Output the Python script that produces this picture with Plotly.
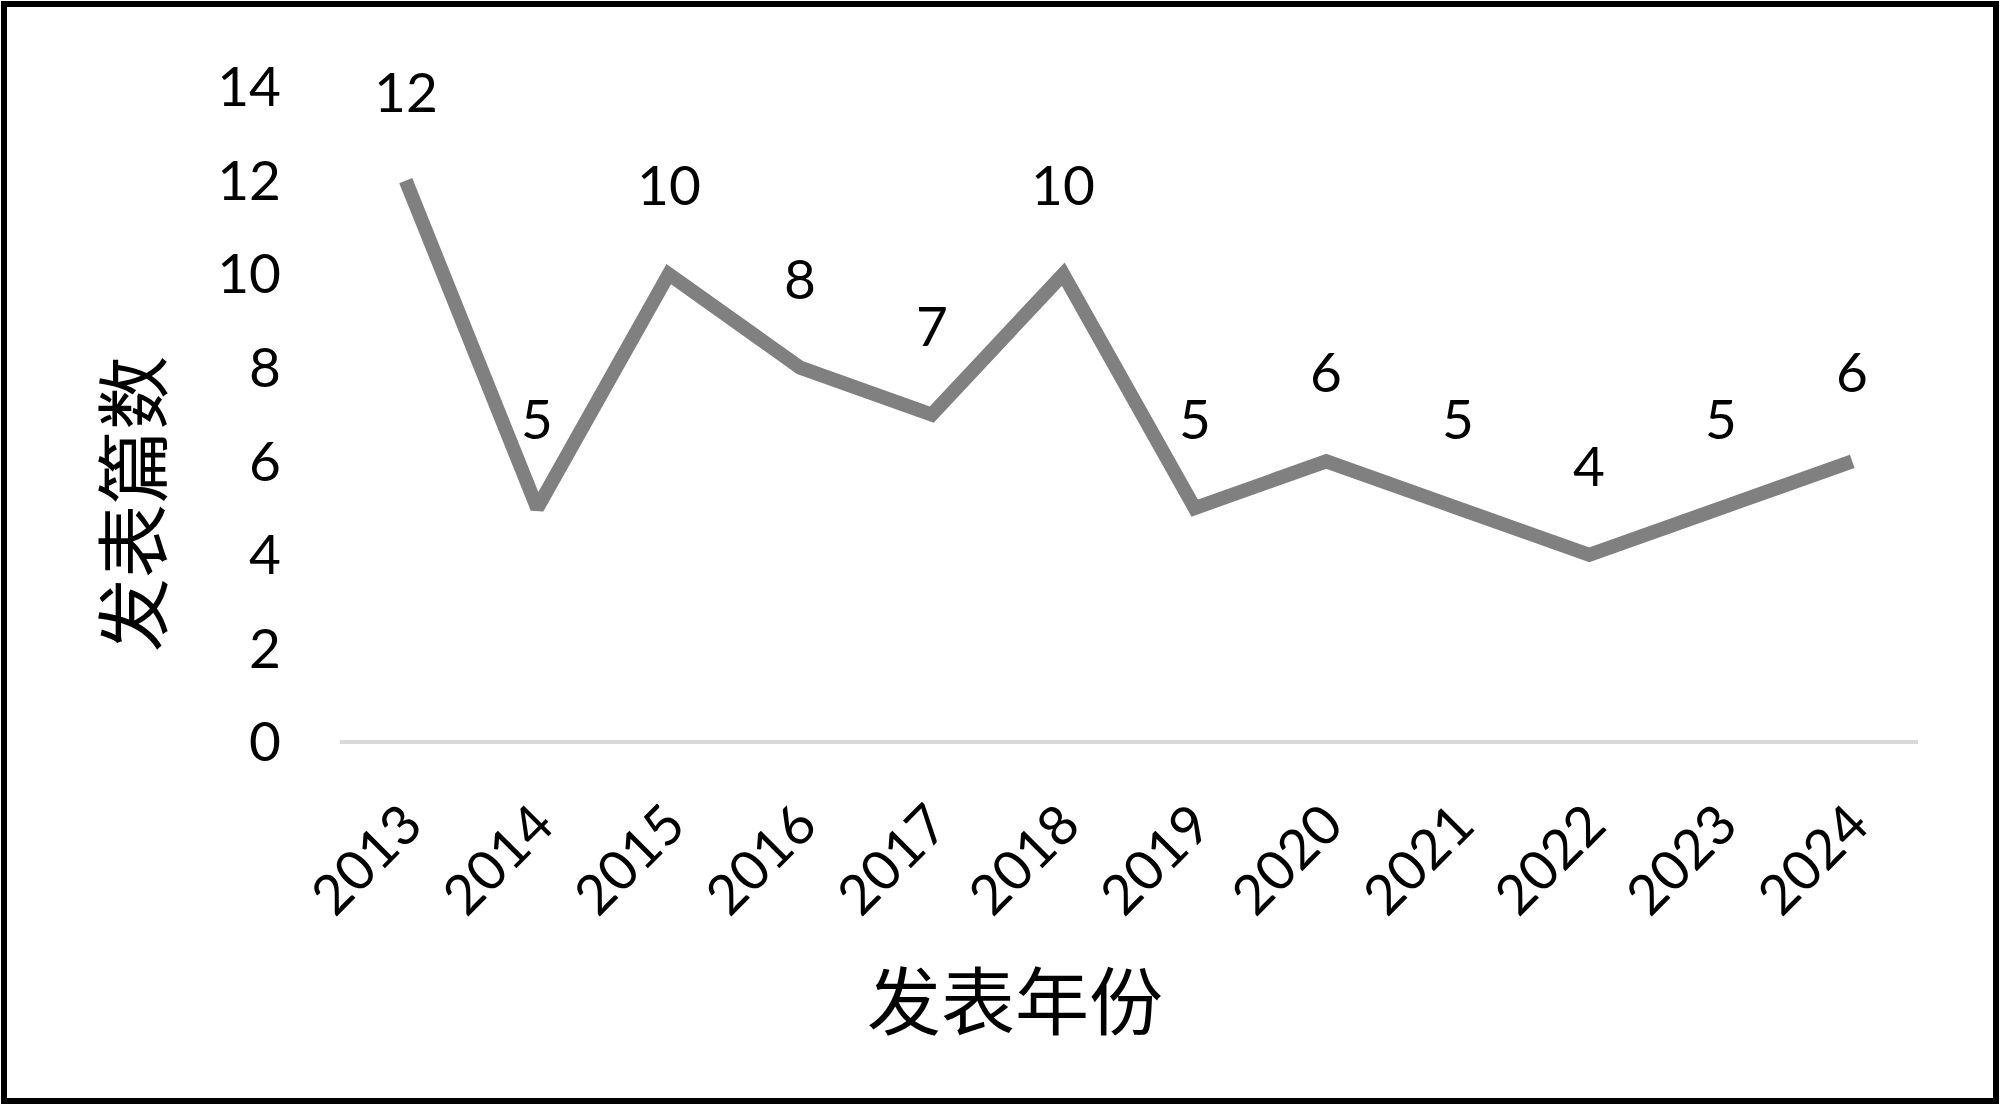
import plotly.graph_objects as go

years = ['2013', '2014', '2015', '2016', '2017', '2018',
         '2019', '2020', '2021', '2022', '2023', '2024']
counts = [12, 5, 10, 8, 7, 10, 5, 6, 5, 4, 5, 6]

x_title = '发表年份'
y_title = '发表篇数'

num_font = 'Lato, Calibri, sans-serif'
cjk_font = 'Noto Sans CJK SC'

W, H = 2000, 1105
L, R, T, B = 340, 82, 87, 363
pw, ph = W - L - R, H - T - B

fig = go.Figure(go.Scatter(
    x=years, y=counts, mode='lines',
    line=dict(color='#808080', width=14),
    hoverinfo='x+y',
))

# data labels sit well above each point (category axis -> index positions)
for i, c in enumerate(counts):
    fig.add_annotation(x=i, y=c, text=str(c), showarrow=False,
                       yshift=90, font=dict(family=num_font, size=55, color='black'))

def px_x(p):
    return (p - L) / pw

def px_y(p):
    return (H - B - p) / ph

fig.add_annotation(x=px_x(1015), y=px_y(997), xref='paper', yref='paper',
                   xanchor='center', yanchor='middle',
                   text=x_title, showarrow=False,
                   font=dict(family=cjk_font, size=74, color='black'))
fig.add_annotation(x=px_x(128), y=px_y(504), xref='paper', yref='paper',
                   xanchor='center', yanchor='middle',
                   text=y_title, showarrow=False, textangle=-90,
                   font=dict(family=cjk_font, size=74, color='black'))

# outer frame
fig.add_shape(type='rect', xref='paper', yref='paper',
              x0=px_x(4), x1=px_x(1996), y0=px_y(1101), y1=px_y(4),
              line=dict(color='black', width=6))

fig.update_layout(
    width=W, height=H,
    margin=dict(l=L, r=R, t=T, b=B),
    plot_bgcolor='white', paper_bgcolor='white',
    showlegend=False,
    xaxis=dict(type='category', range=[-0.5, len(years) - 0.5],
               showgrid=False, zeroline=False,
               showline=False, tickangle=-45, ticklabelstandoff=38,
               tickfont=dict(family=num_font, size=55, color='black')),
    yaxis=dict(range=[0, 14], dtick=2, showgrid=False,
               zeroline=True, zerolinecolor='#d9d9d9', zerolinewidth=4,
               ticklabelstandoff=58,
               tickfont=dict(family=num_font, size=55, color='black')),
)

fig.write_html('out.html', config={'displayModeBar': False},
               post_script="document.body.style.margin='0';")
